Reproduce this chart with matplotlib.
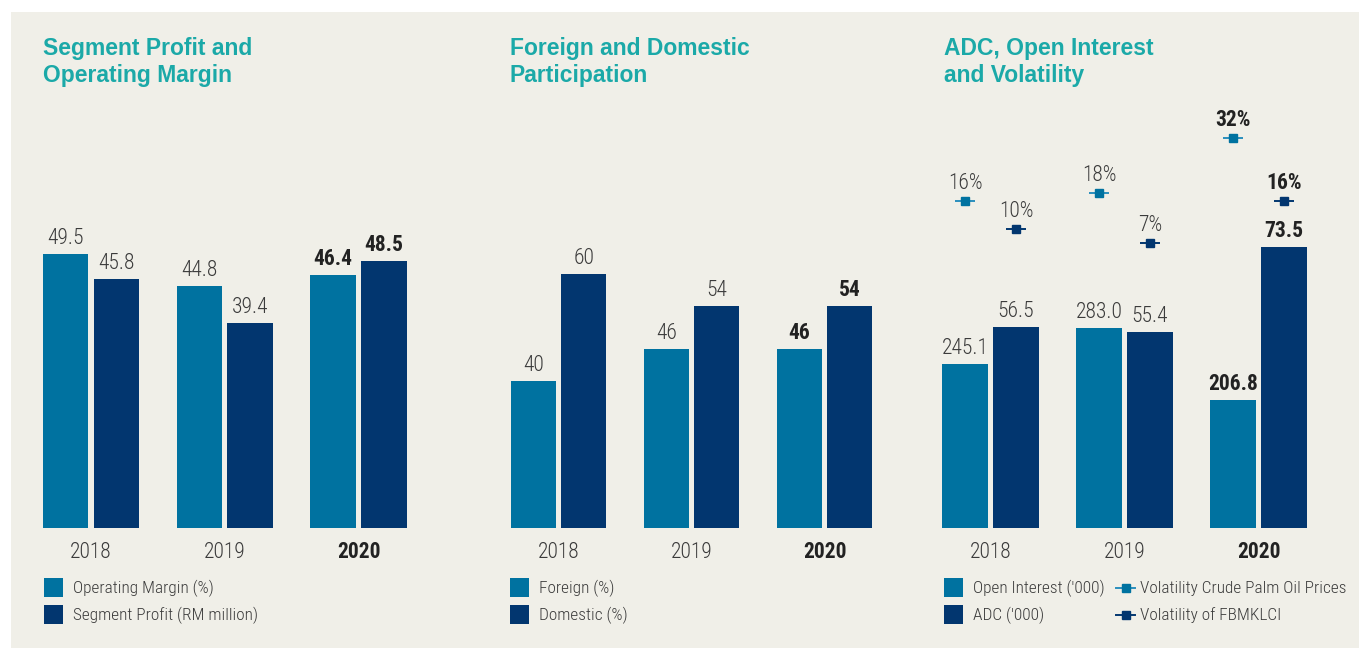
import matplotlib
matplotlib.use("Agg")
import matplotlib.pyplot as plt
from matplotlib.patches import Rectangle
from matplotlib.lines import Line2D

# ---------------------------------------------
# data
# ---------------------------------------------
YEARS = ["2018", "2019", "2020"]

operating_margin = [49.5, 44.8, 46.4]
segment_profit   = [45.8, 39.4, 48.5]

foreign  = [40, 46, 46]
domestic = [60, 54, 54]

open_interest = [245.1, 283.0, 206.8]
adc           = [56.5, 55.4, 73.5]
vol_cpo       = [16, 18, 32]
vol_fbmklci   = [10, 7, 16]

# ---------------------------------------------
# style
# ---------------------------------------------
W, H   = 1359, 648
BG     = "#f0efe8"
LIGHT  = "#0072a0"
DARK   = "#02366f"
TEAL   = "#1ba9a8"
GREY   = "#3b3b3b"
BOLD_C = "#222222"
NARROW = ["Roboto Condensed", "Roboto", "DejaVu Sans"]
SANS   = ["Liberation Sans", "DejaVu Sans"]

BASE_Y = 528        # bar baseline (px from top)
TOP_Y  = 100        # axes top (px from top)
OFF    = 0.19       # pair offset in group units
BAR_W  = 0.34
NUM_FS = 15.5
LEG_FS = 12.4


def fx(px):
    return px / W


def fy(py):
    return 1 - py / H


def make_axes(center0, spacing):
    left = center0 - spacing / 2
    ax = fig.add_axes([fx(left), fy(BASE_Y), fx(3 * spacing), (BASE_Y - TOP_Y) / H])
    ax.set_xlim(-0.5, 2.5)
    ax.axis("off")
    return ax


def set_scale(ax, v0, px_per_unit):
    ax.set_ylim(v0, v0 + (BASE_Y - TOP_Y) / px_per_unit)


def label(ax, x, v, text, bold, gap=10):
    ax.annotate(text, (x, v), xytext=(0, gap), textcoords="offset pixels",
                ha="center", va="baseline", fontsize=NUM_FS, family=NARROW,
                fontweight="bold" if bold else "light",
                color=BOLD_C if bold else GREY, annotation_clip=False)


def bar_pair(ax, ax2, a_vals, b_vals, fmt):
    xs = range(len(YEARS))
    ax.bar([x - OFF for x in xs], a_vals, width=BAR_W, color=LIGHT)
    ax2.bar([x + OFF for x in xs], b_vals, width=BAR_W, color=DARK)
    for i in xs:
        bold = i == len(YEARS) - 1
        label(ax, i - OFF, a_vals[i], fmt.format(a_vals[i]), bold)
        label(ax2, i + OFF, b_vals[i], fmt.format(b_vals[i]), bold)


def years(center0, spacing):
    for i, y in enumerate(YEARS):
        bold = i == len(YEARS) - 1
        fig.text(fx(center0 + i * spacing), fy(558), y, ha="center", va="baseline",
                 fontsize=NUM_FS, family=NARROW,
                 fontweight="bold" if bold else "light",
                 color=BOLD_C if bold else GREY)


def title(x, lines):
    for k, line in enumerate(lines):
        fig.text(fx(x), fy(55 + 27 * k), line, ha="left", va="baseline",
                 fontsize=16.5, family=SANS, fontweight="bold", color=TEAL)


def legend_box(x, y, color, text):
    fig.add_artist(Rectangle((fx(x), fy(y + 19)), fx(19), 19 / H,
                             facecolor=color, edgecolor="none"))
    fig.text(fx(x + 29), fy(y + 15), text, ha="left", va="baseline",
             fontsize=LEG_FS, family=NARROW, fontweight="light", color=GREY)


def legend_line(x, y, line_c, mark_c, text):
    yy = fy(y + 9.5)
    fig.add_artist(Line2D([fx(x), fx(x + 19)], [yy, yy], color=line_c, lw=1.4))
    fig.add_artist(Line2D([fx(x + 9.5)], [yy], marker="s", markersize=5.5,
                          color=mark_c, lw=0))
    fig.text(fx(x + 24), fy(y + 15), text, ha="left", va="baseline",
             fontsize=LEG_FS, family=NARROW, fontweight="light", color=GREY)


fig = plt.figure(figsize=(W / 100, H / 100), dpi=100)
fig.patch.set_facecolor("white")
fig.add_artist(Rectangle((fx(11), 0), 1 - fx(11), fy(12), facecolor=BG,
                         edgecolor="none", zorder=-10))

# ---------------------------------------------
# 1. Segment profit and operating margin
# ---------------------------------------------
c1, s1 = 91, 133.75
ax1 = make_axes(c1, s1)
set_scale(ax1, 9.4, 6.83)
bar_pair(ax1, ax1, operating_margin, segment_profit, "{:.1f}")
years(c1, s1)
title(43, ["Segment Profit and", "Operating Margin"])
legend_box(44, 578, LIGHT, "Operating Margin (%)")
legend_box(44, 605, DARK, "Segment Profit (RM million)")

# ---------------------------------------------
# 2. Foreign and domestic participation
# ---------------------------------------------
c2, s2 = 558.5, 133
ax2 = make_axes(c2, s2)
set_scale(ax2, 12.5, 5.35)
bar_pair(ax2, ax2, foreign, domestic, "{:d}")
years(c2, s2)
title(510, ["Foreign and Domestic", "Participation"])
legend_box(510, 578, LIGHT, "Foreign (%)")
legend_box(510, 605, DARK, "Domestic (%)")

# ---------------------------------------------
# 3. ADC, open interest and volatility
# ---------------------------------------------
c3, s3 = 990.5, 134
ax3 = make_axes(c3, s3)
ax3b = ax3.twinx()
ax3b.axis("off")
set_scale(ax3, 71.35, 0.945)
set_scale(ax3b, 13.8, 4.706)
bar_pair(ax3, ax3b, open_interest, adc, "{:.1f}")

ax3c = ax3.twinx()
ax3c.axis("off")
set_scale(ax3c, -67.1, 3.94)
ax3d = ax3.twinx()
ax3d.axis("off")
set_scale(ax3d, -54.1, 4.667)
xs = range(len(YEARS))
for axv, vals, dx, line_c, mark_c in [(ax3c, vol_cpo, -OFF, "#2a8fbd", LIGHT),
                                      (ax3d, vol_fbmklci, OFF, DARK, DARK)]:
    for i in xs:
        axv.plot([i + dx - 0.075, i + dx + 0.075], [vals[i], vals[i]],
                 color=line_c, lw=1.4, solid_capstyle="butt")
    axv.plot([i + dx for i in xs], vals, ls="none", marker="s", markersize=5.5,
             color=mark_c)
    for i in xs:
        label(axv, i + dx, vals[i], f"{vals[i]}%", i == len(YEARS) - 1, gap=12)

years(c3, s3)
title(944, ["ADC, Open Interest", "and Volatility"])
legend_box(944, 578, LIGHT, "Open Interest ('000)")
legend_box(944, 605, DARK, "ADC ('000)")
legend_line(1116, 578, "#2a8fbd", LIGHT, "Volatility Crude Palm Oil Prices")
legend_line(1116, 605, DARK, DARK, "Volatility of FBMKLCI")

fig.savefig("out.png", dpi=100, facecolor=fig.get_facecolor())
